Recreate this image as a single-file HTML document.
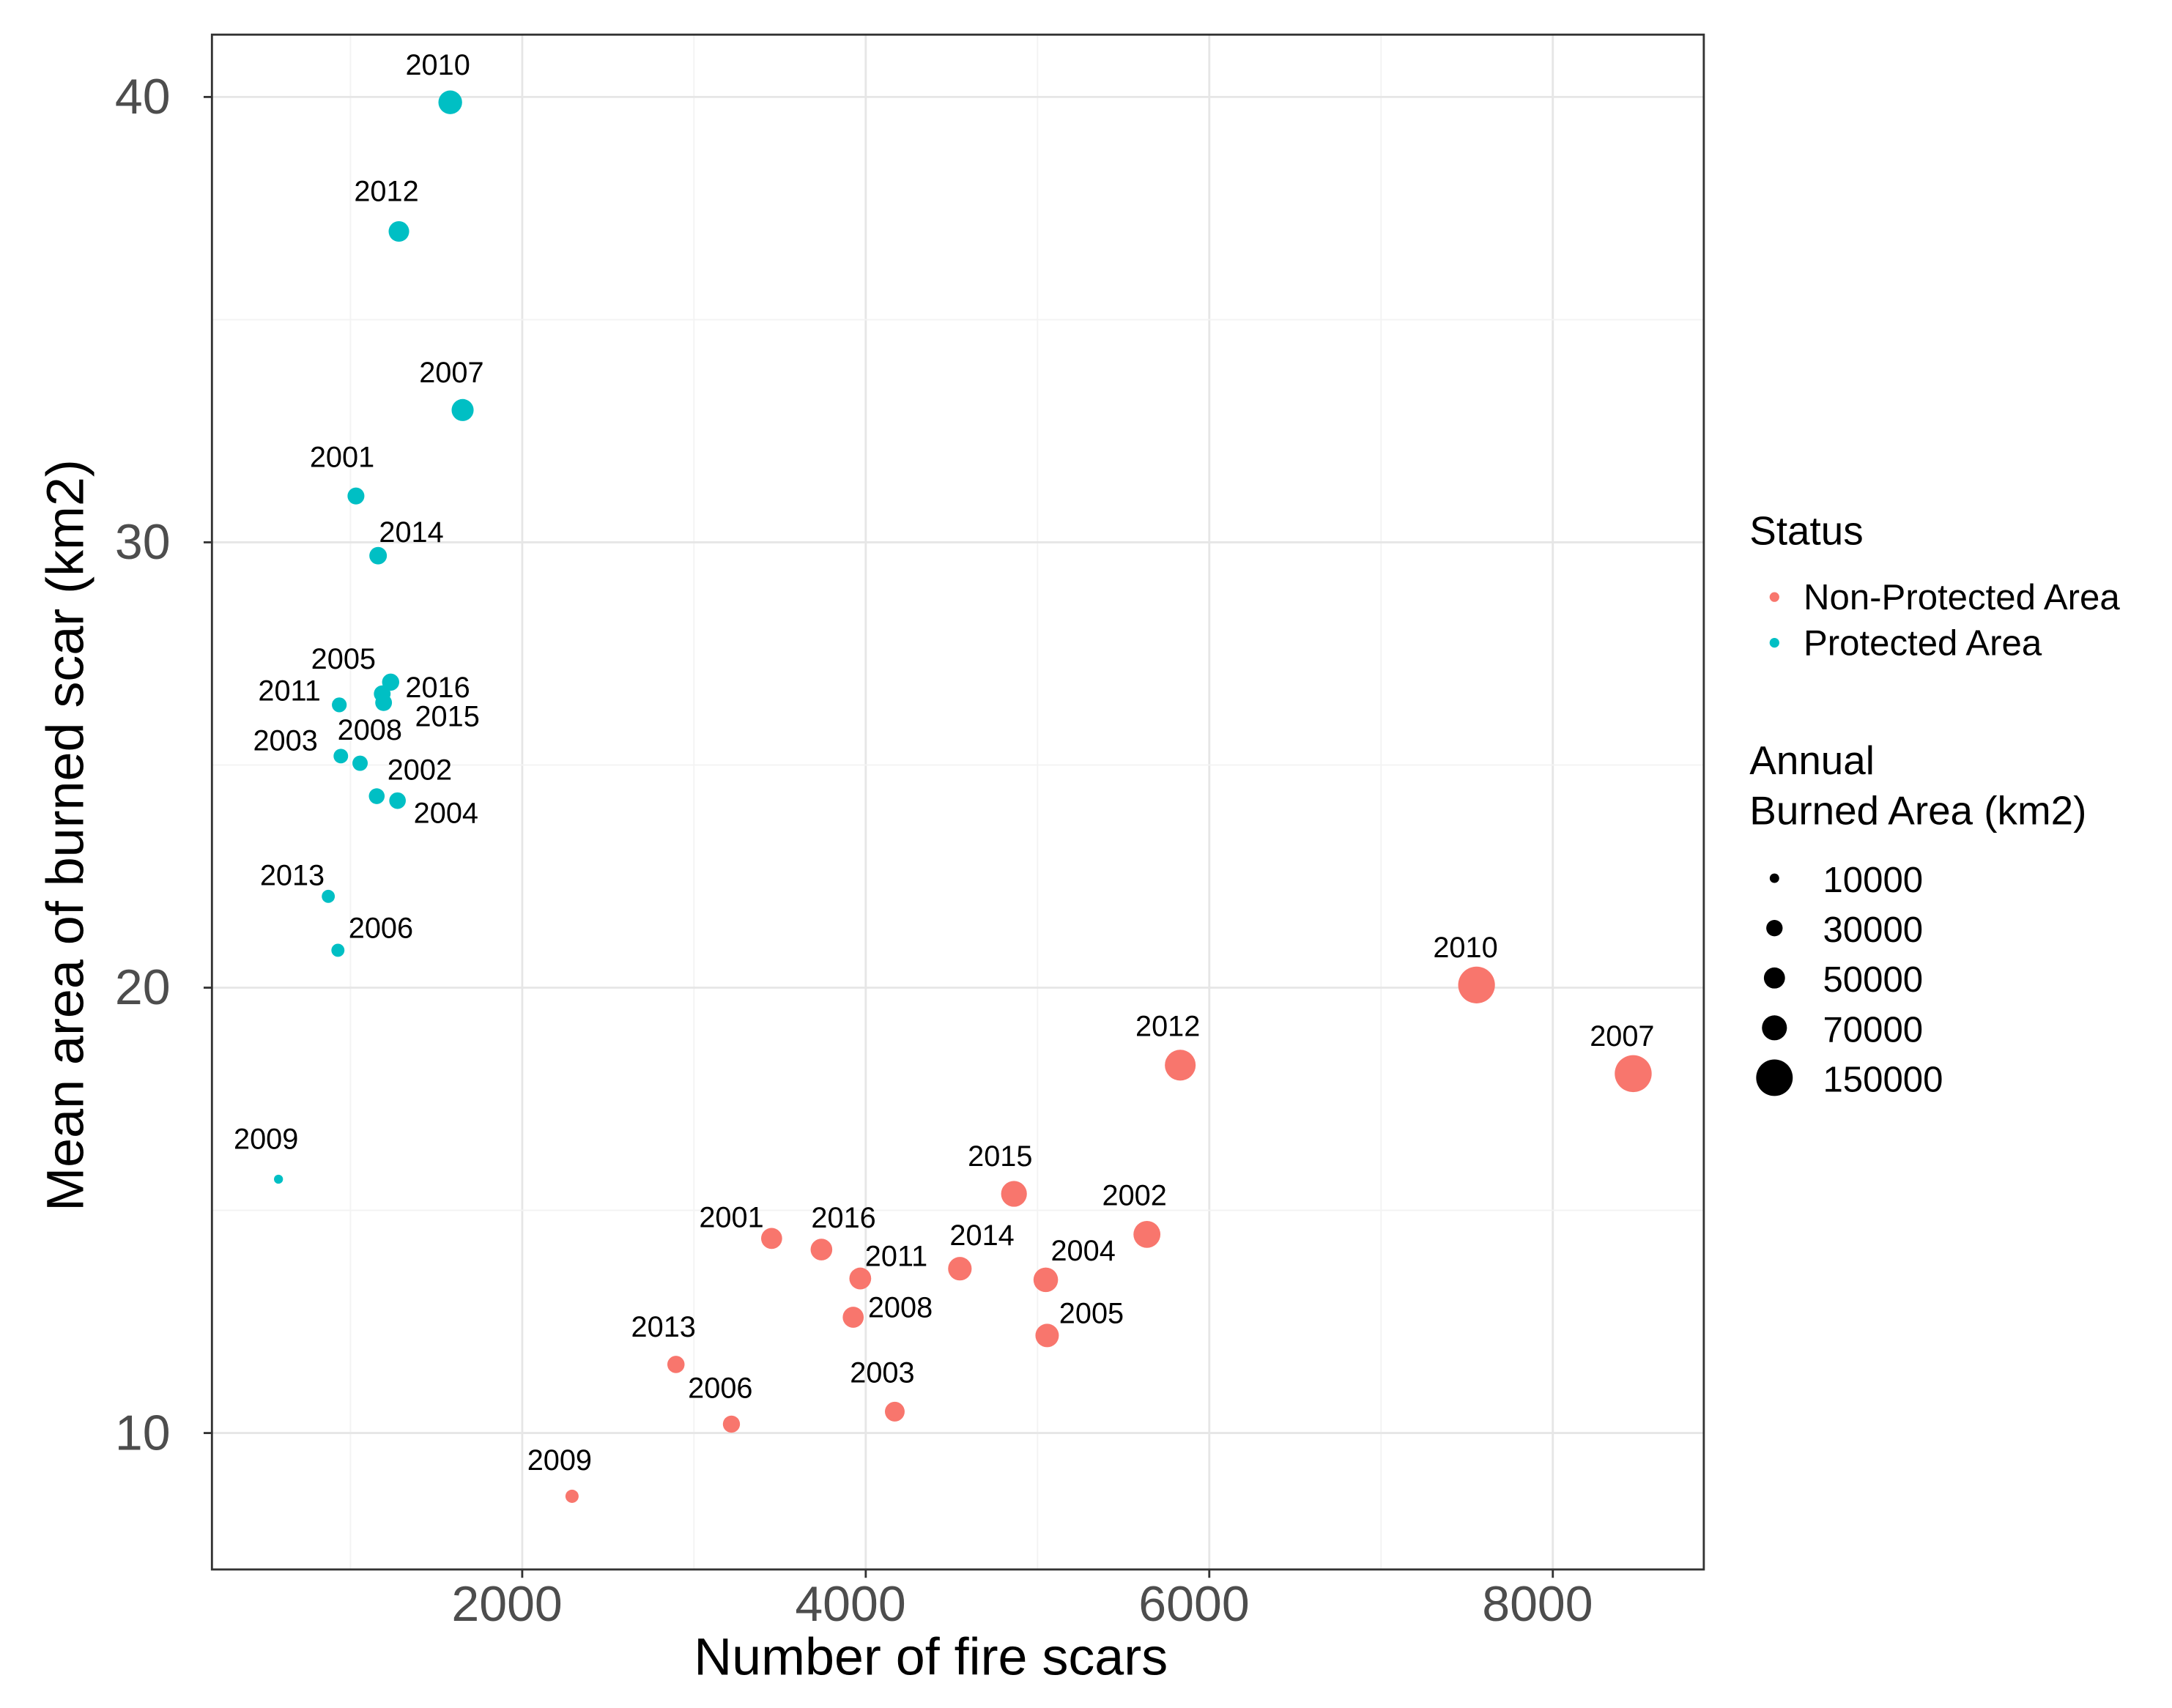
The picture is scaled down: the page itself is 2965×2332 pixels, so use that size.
<!DOCTYPE html>
<html><head><meta charset="utf-8"><style>
html,body{margin:0;padding:0;background:#fff}
svg{display:block}
text{font-family:"Liberation Sans",sans-serif}
</style></head><body>
<svg id="chart" width="2965" height="2332" viewBox="0 0 1568 1233" preserveAspectRatio="none" xmlns="http://www.w3.org/2000/svg">
<rect x="153" y="25" width="1077" height="1108" fill="#fff"/>
<g id="grid"></g>
<g id="marks"></g>
<rect x="153" y="25" width="1077" height="1108" fill="none" stroke="#333" stroke-width="1.5"/>
<g id="axes"></g>
<text x="672" y="1209" font-size="38" text-anchor="middle" fill="#000">Number of fire scars</text>
<text transform="translate(60,603) rotate(-90)" font-size="38" text-anchor="middle" fill="#000">Mean area of burned scar (km2)</text>
<g>
<text x="1263" y="393" font-size="29" fill="#000">Status</text>
<circle cx="1281" cy="431" r="3.5" fill="#F8766D"/>
<text x="1302" y="440" font-size="26" fill="#000">Non-Protected Area</text>
<circle cx="1281" cy="464" r="3.5" fill="#00BFC4"/>
<text x="1302" y="473" font-size="26" fill="#000">Protected Area</text>
<text x="1263" y="559" font-size="29" fill="#000">Annual</text>
<text x="1263" y="595" font-size="29" fill="#000">Burned Area (km2)</text>
<g id="sizeLegend"></g>
</g>
</svg>
<script>
const protYears=["2010","2012","2007","2001","2014","2005","2016","2015","2011","2003","2008","2002","2004","2013","2006","2009"];
const protX=[1581,1282,1653,1032,1161,1185,1234,1193,935,944,1056,1153,1274,871,927,581];
const protY=[39.88,36.98,32.97,31.04,29.7,26.6,26.86,26.4,26.35,25.2,25.04,24.3,24.2,22.05,20.84,15.7];
const protArea=[63000,47400,54500,32000,34500,31500,33100,31500,24600,23800,26400,28000,30800,19200,19300,9100];
const npYears=["2010","2007","2012","2015","2002","2001","2016","2011","2014","2004","2008","2005","2013","2003","2006","2009"];
const npX=[7556,8468,5831,4863,5637,3452,3742,3968,4548,5048,3927,5056,2895,4169,3218,2290];
const npY=[20.06,18.07,18.26,15.37,14.46,14.37,14.12,13.47,13.69,13.44,12.6,12.19,11.54,10.48,10.2,8.58];
const npArea=[151600,153000,106500,74700,81500,49600,52800,53400,62300,67800,49500,61600,33400,43700,32800,19600];
const xTicks=[2000,4000,6000,8000];
const yTicks=[10,20,30,40];
const sizeBreaks=[10000,30000,50000,70000,150000];
// label offsets (layout only), display px
const protOff=[[-9,-28],[-9,-30],[-8,-28],[-10,-29],[24,-18],[-28,-26],[34,3],[46,9],[-36,-11],[-40,-12],[7,-25],[31,-20],[35,8],[-26,-16],[31,-17],[-9,-30]];
const npOff=[[-8,-28],[-8,-28],[-9,-29],[-10,-28],[-9,-29],[-29,-16],[16,-24],[26,-17],[16,-25],[27,-22],[34,-8],[32,-17],[-9,-28],[-9,-29],[-8,-27],[-9,-27]];

const NS="http://www.w3.org/2000/svg";
const X=v=>377+(v-2000)*0.124;
const Y=v=>713-(v-20)*32.15;
const R=a=>13.2*Math.sqrt(a/150000);
function mk(tag,attrs,parent){const e=document.createElementNS(NS,tag);for(const k in attrs)e.setAttribute(k,attrs[k]);parent.appendChild(e);return e;}
const grid=document.getElementById('grid'),marks=document.getElementById('marks'),axes=document.getElementById('axes');
for(let v=1000;v<=8000;v+=1000){const l=mk('line',{x1:X(v),x2:X(v),y1:25,y2:1133,stroke:v%2000?'#f3f3f3':'#e6e6e6','stroke-width':v%2000?1:1.5},grid);

}
for(let v=10;v<=40;v+=5){const l=mk('line',{x1:153,x2:1230,y1:Y(v),y2:Y(v),stroke:v%10?'#f3f3f3':'#e6e6e6','stroke-width':v%10?1:1.5},grid);

}
xTicks.forEach(v=>{const t=mk('line',{x1:X(v),x2:X(v),y1:1133,y2:1139,stroke:'#333','stroke-width':1.5},axes);


const s=mk('text',{x:X(v)-11,y:1170,'font-size':36,'text-anchor':'middle',fill:'#4d4d4d'},axes);s.textContent=v;

});
yTicks.forEach(v=>{const t=mk('line',{x1:147,x2:153,y1:Y(v),y2:Y(v),stroke:'#333','stroke-width':1.5},axes);


const s=mk('text',{x:123,y:Y(v)+12,'font-size':36,'text-anchor':'end',fill:'#4d4d4d'},axes);s.textContent=v;

});
function series(years,xs,ys,areas,offs,color,name){
years.forEach((yr,i)=>{const cx=X(xs[i]),cy=Y(ys[i]);
const c=mk('circle',{cx:cx,cy:cy,r:R(areas[i]),fill:color},marks);


const t=mk('text',{x:cx+offs[i][0],y:cy+offs[i][1]+8,'font-size':21,'text-anchor':'middle',fill:'#000'},marks);t.textContent=yr;

});}
series(protYears,protX,protY,protArea,protOff,'#00BFC4','protected');
series(npYears,npX,npY,npArea,npOff,'#F8766D','non-protected');
const sl=document.getElementById('sizeLegend');
sizeBreaks.forEach((b,i)=>{const y=634+i*36;
const c=mk('circle',{cx:1281,cy:y,r:R(b),fill:'#000'},sl);


const t=mk('text',{x:1316,y:y+10,'font-size':26,fill:'#000'},sl);t.textContent=b;

});
</script>
</body></html>
